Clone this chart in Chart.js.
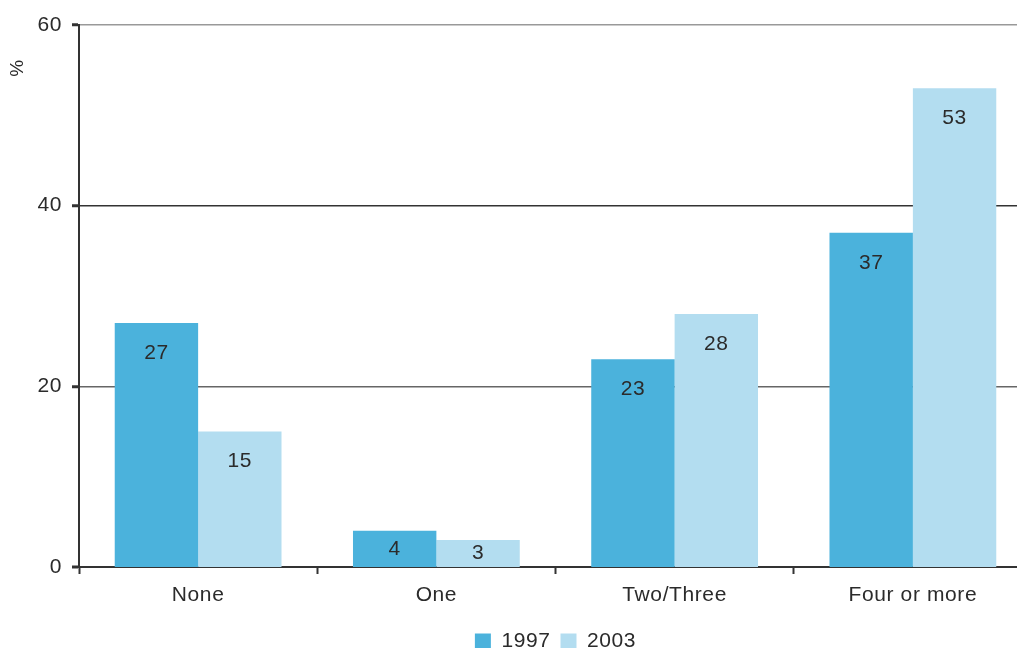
<!DOCTYPE html>
<html>
<head>
<meta charset="utf-8">
<script src="https://cdn.jsdelivr.net/npm/chart.js@4"></script>
<style>
  html, body { margin: 0; padding: 0; background: #fff; overflow: hidden; }
  #wrap { width: 1040px; height: 648px; }
</style>
</head>
<body>
<div id="wrap"><canvas id="myChart"></canvas></div>
<script>
const categories = ['None', 'One', 'Two/Three', 'Four or more'];
const values1997 = [27, 4, 23, 37];
const values2003 = [15, 3, 28, 53];
const yTicks = [0, 20, 40, 60];

const FONT = '"Liberation Sans", Arial, sans-serif';
const TEXT = '#2b2b2b';
const gridColors = { 20: '#666', 40: '#333', 60: '#999' };

// a little extra letter spacing, like the original
const spacing = {
    id: 'spacing',
    beforeLayout(chart) { chart.ctx.letterSpacing = '0.6px'; },
    beforeDraw(chart) { chart.ctx.letterSpacing = '0.6px'; }
};

// labels inside the top of each bar, plus the "%" unit on the left
const barLabels = {
    id: 'barLabels',
    afterDatasetsDraw(chart) {
        const ctx = chart.ctx;
        ctx.save();
        ctx.font = '21px ' + FONT;
        ctx.fillStyle = TEXT;
        ctx.textAlign = 'center';
        ctx.textBaseline = 'middle';
        chart.data.datasets.forEach((ds, i) => {
            chart.getDatasetMeta(i).data.forEach((bar, j) => {
                const y = Math.min(bar.y + 30, (bar.y + bar.base) / 2);
                ctx.fillText(ds.data[j], bar.x, y);
            });
        });
        ctx.translate(18, 68);
        ctx.rotate(-Math.PI / 2);
        ctx.font = '19px ' + FONT;
        ctx.fillText('%', 0, 0);
        ctx.restore();
    }
};

const ctx = document.getElementById('myChart').getContext('2d');
new Chart(ctx, {
    type: 'bar',
    data: {
        labels: categories,
        datasets: [
            { label: '1997', data: values1997, backgroundColor: '#4bb2dc', categoryPercentage: 0.7, barPercentage: 1 },
            { label: '2003', data: values2003, backgroundColor: '#b3ddf0', categoryPercentage: 0.7, barPercentage: 1 }
        ]
    },
    options: {
        responsive: true,
        maintainAspectRatio: false,
        animation: false,
        layout: { padding: { top: 25, right: 8, left: 0, bottom: -14 } },
        plugins: {
            legend: {
                position: 'bottom',
                fullSize: false,
                labels: {
                    boxWidth: 16,
                    boxHeight: 16,
                    padding: 10,
                    color: TEXT,
                    font: { size: 21, family: FONT }
                }
            },
            tooltip: { enabled: false }
        },
        scales: {
            x: {
                afterFit(axis) { axis.height = 54; },
                grid: {
                    offset: true,
                    drawOnChartArea: false,
                    tickLength: 7,
                    tickColor: '#333',
                    tickWidth: 2
                },
                border: { color: '#333', width: 2 },
                ticks: {
                    color: TEXT,
                    padding: 9,
                    font: { size: 21, family: FONT }
                }
            },
            y: {
                min: 0,
                max: 60,
                afterFit(axis) { axis.width = 79; },
                afterBuildTicks(axis) { axis.ticks = yTicks.map(v => ({ value: v })); },
                grid: {
                    color: c => (c.tick && gridColors[c.tick.value]) || '#666',
                    lineWidth: c => c.tick && c.tick.value === 0 ? 0 : 1.5,
                    tickLength: 7,
                    tickColor: '#333',
                    tickWidth: 3
                },
                border: { color: '#333', width: 2 },
                ticks: {
                    color: TEXT,
                    padding: 10,
                    font: { size: 21, family: FONT }
                }
            }
        }
    },
    plugins: [spacing, barLabels]
});
</script>
</body>
</html>
